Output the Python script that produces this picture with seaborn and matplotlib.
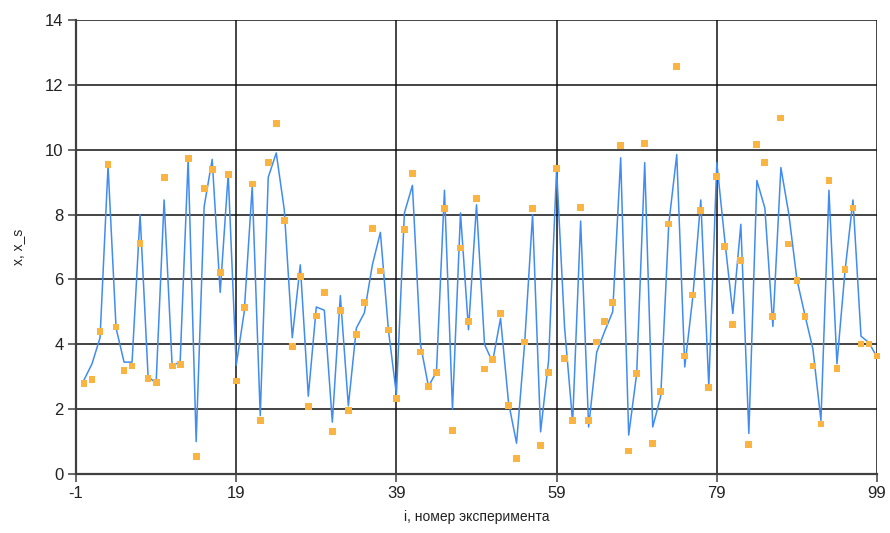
import numpy as np
import pandas as pd
import matplotlib
matplotlib.use("Agg")
import matplotlib.pyplot as plt
import seaborn as sns

# experiment index
i_values = list(range(100))

# measured series x (drawn as a line)
x_values = [
    2.9, 3.4, 4.2, 9.5, 4.5, 3.45, 3.45, 8.0, 3.0, 2.8,
    8.45, 3.35, 3.45, 9.7, 1.0, 8.25, 9.7, 5.6, 9.25, 3.35,
    5.0, 8.87, 1.8, 9.15, 9.9, 8.15, 4.2, 6.45, 2.4, 5.15,
    5.05, 1.6, 5.5, 2.1, 4.5, 4.97, 6.45, 7.45, 4.45, 2.45,
    8.05, 8.9, 4.0, 2.7, 3.15, 8.75, 2.0, 8.05, 4.45, 8.3,
    4.0, 3.45, 4.8, 2.2, 0.95, 4.0, 8.0, 1.3, 3.5, 9.4,
    4.5, 1.6, 7.8, 1.45, 3.75, 4.4, 5.0, 9.75, 1.2, 3.1,
    9.6, 1.45, 2.4, 7.7, 9.85, 3.3, 5.45, 8.45, 2.7, 9.6,
    7.2, 4.95, 7.7, 1.25, 9.05, 8.2, 4.55, 9.45, 8.0, 6.0,
    4.9, 3.85, 1.65, 8.75, 3.4, 6.25, 8.45, 4.25, 4.05, 3.6,
]

# series x_s (drawn as square markers)
xs_values = [
    2.8, 2.92, 4.39, 9.54, 4.53, 3.18, 3.33, 7.11, 2.95, 2.81,
    9.15, 3.33, 3.37, 9.74, 0.54, 8.8, 9.38, 6.22, 9.24, 2.87,
    5.14, 8.94, 1.66, 9.6, 10.82, 7.82, 3.92, 6.08, 2.09, 4.87,
    5.6, 1.3, 5.04, 1.95, 4.29, 5.29, 7.56, 6.26, 4.44, 2.33,
    7.53, 9.26, 3.76, 2.69, 3.13, 8.19, 1.33, 6.97, 4.7, 8.5,
    3.24, 3.52, 4.95, 2.12, 0.49, 4.07, 8.18, 0.87, 3.12, 9.42,
    3.55, 1.65, 8.22, 1.64, 4.07, 4.7, 5.3, 10.12, 0.71, 3.11,
    10.19, 0.93, 2.54, 7.71, 12.57, 3.64, 5.52, 8.13, 2.66, 9.18,
    7.02, 4.6, 6.58, 0.9, 10.17, 9.61, 4.86, 10.98, 7.09, 5.96,
    4.86, 3.33, 1.54, 9.06, 3.26, 6.3, 8.2, 4.01, 4.01, 3.64,
]

x_ticks = [-1, 19, 39, 59, 79, 99]
y_ticks = [0, 2, 4, 6, 8, 10, 12, 14]

df = pd.DataFrame({"i": i_values, "x": x_values, "x_s": xs_values})

sns.set_style("white")
plt.rcParams["font.family"] = ["Liberation Sans", "DejaVu Sans"]
plt.rcParams["axes.unicode_minus"] = False

fig = plt.figure(figsize=(8.9, 5.33), dpi=100)
ax = fig.add_axes([0.0854, 0.1107, 0.900, 0.8518])

sns.lineplot(data=df, x="i", y="x", ax=ax, color="#418CF0", lw=1.1, zorder=3)
pts = sns.scatterplot(data=df, x="i", y="x_s", ax=ax, marker="s", s=24,
                      color="#FCB441", edgecolor="none", zorder=4)
for coll in ax.collections:
    coll.set_clip_on(False)

ax.set_xlim(-1, 99)
ax.set_ylim(0, 14)
ax.set_xticks(x_ticks)
ax.set_yticks(y_ticks)
ax.grid(True, color="#111111", lw=1.1, zorder=1)
ax.set_axisbelow(True)

for side in ("top", "right"):
    ax.spines[side].set_visible(False)
for side in ("left", "bottom"):
    ax.spines[side].set_color("#404040")
    ax.spines[side].set_linewidth(1.6)

ax.tick_params(axis="both", which="major", direction="out", length=6,
               width=1.1, color="#404040", labelsize=12, labelcolor="#222222",
               pad=3, left=True, bottom=True)

ax.set_xlabel("i, номер эксперимента", fontsize=10, color="#222222", labelpad=6)
ax.set_ylabel("x, x_s", fontsize=10, color="#222222", labelpad=14)

fig.savefig("out.png", dpi=100)
